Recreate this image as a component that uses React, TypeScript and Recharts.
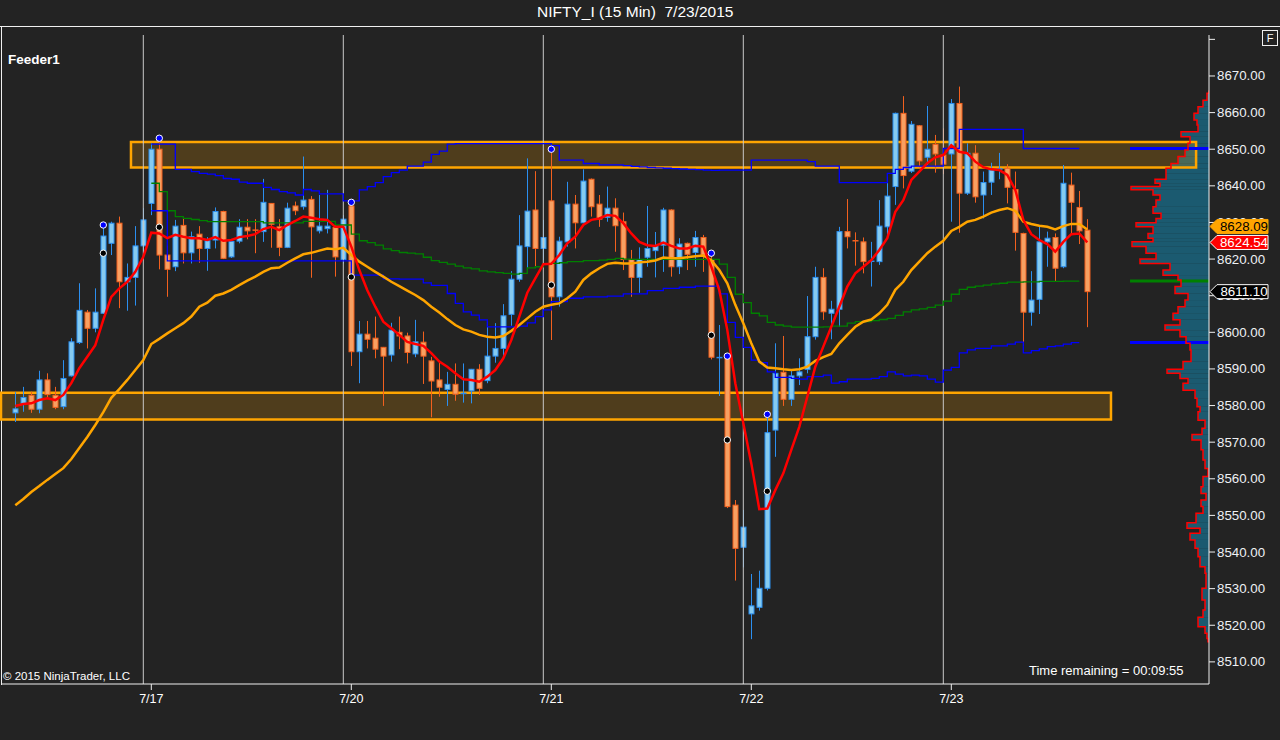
import React from "react";
import {
  ComposedChart,
  Bar,
  Line,
  Scatter,
  XAxis,
  YAxis,
  ReferenceLine,
  ReferenceArea,
} from "recharts";

// 15-min bars, index 0 = first visible bar of 7/16
const opens = [
  8578.0, 8580.6, 8582.8, 8579.0, 8587.0, 8582.8, 8579.7, 8588.1, 8597.2, 8605.5,
  8601.1, 8605.2, 8624.3, 8629.8, 8613.8, 8615.0, 8623.6, 8635.2, 8650.0, 8621.1,
  8617.9, 8629.2, 8621.7, 8626.8, 8622.9, 8625.2, 8633.0, 8620.6, 8624.9, 8628.7,
  8627.9, 8627.5, 8635.2, 8628.8, 8623.2, 8634.5, 8634.3, 8636.3, 8627.7, 8628.3,
  8628.6, 8619.9, 8634.5, 8594.7, 8599.5, 8598.4, 8595.9, 8593.8, 8600.0, 8599.0,
  8594.1, 8597.3, 8592.2, 8587.0, 8584.4, 8585.8, 8583.1, 8584.0, 8589.9, 8586.8,
  8593.5, 8595.6, 8604.9, 8614.5, 8623.4, 8633.4, 8622.9, 8635.9, 8609.7, 8624.7,
  8635.0, 8629.9, 8641.8, 8635.0, 8631.4, 8633.9, 8630.2, 8619.9, 8615.0, 8620.5,
  8622.3, 8623.8, 8633.4, 8617.9, 8624.3, 8621.8, 8625.9, 8619.9, 8592.9, 8592.9,
  8552.8, 8541.3, 8523.1, 8524.9, 8530.1, 8573.3, 8589.1, 8581.7, 8588.1, 8589.9,
  8598.8, 8615.0, 8605.2, 8606.3, 8627.5, 8625.0, 8624.7, 8619.2, 8619.3, 8628.8,
  8639.8, 8659.8, 8644.0, 8656.4, 8647.8, 8651.3, 8648.4, 8648.7, 8662.5, 8638.0,
  8648.9, 8637.5, 8641.0, 8644.4, 8644.8, 8639.0, 8627.0, 8605.5, 8609.0, 8624.7,
  8625.9, 8617.9, 8640.2, 8634.1, 8627.9,
];
const highs = [
  8583.7, 8585.1, 8583.8, 8589.5, 8588.8, 8585.1, 8592.4, 8598.4, 8613.4, 8606.1,
  8612.0, 8630.0, 8630.2, 8631.6, 8618.8, 8629.0, 8633.9, 8651.6, 8653.0, 8623.6,
  8630.7, 8631.4, 8627.5, 8629.0, 8626.0, 8634.1, 8633.2, 8625.0, 8630.9, 8630.9,
  8630.9, 8641.9, 8635.3, 8630.9, 8635.4, 8635.7, 8648.0, 8637.2, 8637.5, 8638.9,
  8629.3, 8632.0, 8635.7, 8603.1, 8603.1, 8604.3, 8596.0, 8602.6, 8604.3, 8599.9,
  8603.4, 8600.2, 8593.3, 8592.0, 8589.2, 8591.5, 8591.5, 8590.0, 8591.3, 8602.9,
  8602.5, 8607.7, 8616.7, 8632.0, 8647.5, 8644.0, 8630.7, 8650.0, 8626.1, 8641.1,
  8637.5, 8644.5, 8642.0, 8637.5, 8639.8, 8636.6, 8632.7, 8622.5, 8623.2, 8634.5,
  8627.4, 8634.0, 8633.6, 8625.7, 8624.5, 8627.7, 8626.6, 8621.6, 8602.0, 8594.0,
  8554.2, 8551.5, 8534.0, 8534.9, 8577.6, 8597.0, 8599.0, 8589.9, 8592.9, 8609.9,
  8617.9, 8617.5, 8608.6, 8628.8, 8636.4, 8627.3, 8625.9, 8624.7, 8636.1, 8642.5,
  8660.0, 8664.5, 8657.7, 8656.6, 8661.8, 8653.9, 8655.7, 8663.7, 8667.1, 8651.6,
  8651.1, 8643.9, 8646.3, 8649.0, 8645.9, 8643.9, 8627.2, 8616.7, 8628.8, 8627.5,
  8627.0, 8645.7, 8643.6, 8638.6, 8630.9,
];
const lows = [
  8575.5, 8578.3, 8578.0, 8577.9, 8582.0, 8579.0, 8579.0, 8587.9, 8596.8, 8595.6,
  8600.0, 8605.0, 8621.1, 8606.6, 8605.9, 8607.3, 8620.6, 8632.0, 8617.2, 8609.7,
  8616.7, 8618.8, 8618.8, 8619.0, 8616.8, 8622.9, 8620.0, 8620.3, 8624.3, 8625.4,
  8621.6, 8624.7, 8623.1, 8620.8, 8623.0, 8632.0, 8633.5, 8614.9, 8627.0, 8627.0,
  8615.2, 8618.8, 8590.8, 8586.1, 8595.6, 8592.9, 8579.9, 8592.0, 8595.4, 8591.5,
  8593.2, 8585.9, 8576.8, 8582.4, 8579.9, 8581.3, 8580.8, 8580.6, 8582.9, 8586.1,
  8591.7, 8593.3, 8601.8, 8613.8, 8617.0, 8617.9, 8619.7, 8597.9, 8607.0, 8623.4,
  8622.9, 8629.8, 8631.6, 8628.8, 8630.2, 8622.0, 8617.0, 8609.7, 8610.8, 8617.9,
  8615.0, 8616.5, 8615.2, 8615.9, 8617.0, 8617.9, 8616.5, 8592.6, 8582.6, 8552.0,
  8532.2, 8535.8, 8516.2, 8524.0, 8529.5, 8566.0, 8579.9, 8579.9, 8585.6, 8588.8,
  8598.0, 8603.4, 8598.1, 8601.5, 8622.9, 8618.2, 8616.1, 8612.5, 8618.4, 8626.1,
  8634.8, 8639.3, 8643.5, 8645.0, 8645.7, 8643.6, 8643.2, 8630.2, 8627.2, 8637.5,
  8635.4, 8631.1, 8637.5, 8641.8, 8635.2, 8622.3, 8596.3, 8601.8, 8605.0, 8617.9,
  8613.8, 8617.5, 8626.8, 8624.1, 8601.4,
];
const closes = [
  8579.1, 8582.2, 8579.0, 8587.0, 8583.0, 8579.5, 8587.4, 8597.4, 8606.0, 8601.1,
  8605.5, 8626.3, 8629.8, 8613.8, 8615.0, 8623.6, 8630.7, 8650.0, 8621.1, 8617.2,
  8629.0, 8621.7, 8626.1, 8622.9, 8625.0, 8633.0, 8620.2, 8624.8, 8628.7, 8627.7,
  8627.6, 8635.5, 8629.5, 8623.2, 8633.9, 8633.2, 8636.1, 8628.8, 8629.0, 8629.0,
  8620.6, 8630.9, 8594.7, 8599.5, 8598.1, 8595.4, 8593.5, 8600.6, 8599.0, 8594.5,
  8597.4, 8593.5, 8586.7, 8585.0, 8585.8, 8583.1, 8583.3, 8589.9, 8584.7, 8593.5,
  8595.6, 8604.5, 8614.5, 8623.6, 8633.1, 8622.9, 8625.9, 8609.7, 8624.9, 8635.0,
  8629.9, 8641.3, 8634.3, 8630.9, 8633.9, 8629.1, 8619.9, 8615.0, 8619.9, 8622.9,
  8623.6, 8633.4, 8617.9, 8624.1, 8621.3, 8625.9, 8621.1, 8593.2, 8593.1, 8552.4,
  8541.0, 8546.8, 8525.3, 8530.1, 8572.6, 8588.8, 8581.7, 8588.1, 8589.2, 8598.8,
  8615.0, 8605.6, 8606.3, 8627.5, 8626.1, 8624.8, 8619.3, 8619.4, 8629.0, 8637.2,
  8659.8, 8642.8, 8656.8, 8646.8, 8650.0, 8648.7, 8645.9, 8662.5, 8638.0, 8648.9,
  8637.0, 8640.9, 8644.3, 8644.6, 8639.6, 8627.3, 8605.5, 8608.8, 8624.7, 8625.7,
  8617.5, 8640.7, 8635.5, 8627.7, 8611.1,
];

// red fast average
const emaFast = [
  8579.9, 8580.4, 8580.6, 8581.5, 8582.0, 8581.5, 8582.9, 8586.1, 8590.2, 8593.3,
  8596.5, 8603.4, 8609.7, 8612.0, 8613.8, 8616.5, 8620.6, 8627.2, 8627.0, 8625.7,
  8626.6, 8626.1, 8625.7, 8625.7, 8625.2, 8626.0, 8625.0, 8625.2, 8626.0, 8626.3,
  8626.8, 8628.2, 8628.8, 8627.9, 8629.3, 8630.4, 8631.6, 8631.3, 8630.9, 8630.7,
  8628.8, 8628.8, 8623.4, 8617.0, 8611.5, 8607.0, 8602.9, 8601.1, 8599.3, 8597.4,
  8596.8, 8596.3, 8594.3, 8592.0, 8590.6, 8588.8, 8587.2, 8587.0, 8586.5, 8587.9,
  8589.7, 8592.9, 8597.9, 8604.3, 8610.8, 8614.7, 8618.6, 8618.7, 8621.1, 8624.3,
  8626.1, 8629.3, 8630.7, 8631.1, 8632.0, 8631.8, 8629.8, 8627.0, 8624.7, 8623.8,
  8623.6, 8624.5, 8623.6, 8622.9, 8622.9, 8623.6, 8623.4, 8617.9, 8611.5, 8600.6,
  8586.1, 8575.2, 8564.2, 8551.7, 8551.9, 8556.9, 8561.5, 8567.9, 8574.2, 8582.4,
  8590.6, 8596.1, 8601.5, 8607.0, 8612.5, 8616.1, 8617.9, 8619.7, 8622.5, 8625.7,
  8632.9, 8636.1, 8641.6, 8643.9, 8646.2, 8647.8, 8648.4, 8651.1, 8649.3, 8648.9,
  8646.6, 8645.1, 8644.5, 8644.3, 8643.0, 8638.9, 8630.7, 8626.8, 8625.2, 8624.1,
  8622.0, 8624.7, 8626.8, 8627.0, 8624.54,
];

// orange slow average
const smaSlow = [
  8552.8, 8554.5, 8556.4, 8558.0, 8559.7, 8561.3, 8562.9, 8565.4, 8568.4, 8571.4,
  8574.7, 8578.2, 8582.1, 8584.5, 8587.0, 8589.7, 8592.4, 8596.8, 8598.2, 8599.7,
  8601.1, 8602.5, 8604.3, 8607.0, 8608.1, 8610.0, 8610.6, 8611.6, 8612.9, 8614.1,
  8615.2, 8616.5, 8617.5, 8617.7, 8619.0, 8620.2, 8621.3, 8621.7, 8622.3, 8622.9,
  8622.7, 8623.1, 8621.1, 8619.3, 8617.9, 8616.5, 8615.2, 8613.8, 8612.6, 8611.4,
  8610.2, 8608.8, 8607.0, 8605.4, 8603.6, 8602.0, 8600.8, 8600.2, 8599.3, 8598.8,
  8598.6, 8599.0, 8600.4, 8602.0, 8603.8, 8605.6, 8607.0, 8607.5, 8607.9, 8609.3,
  8611.1, 8614.3, 8616.1, 8617.5, 8618.7, 8619.0, 8618.8, 8618.8, 8619.1, 8619.3,
  8619.6, 8620.4, 8620.2, 8620.2, 8620.5, 8620.8, 8621.0, 8619.7, 8617.0, 8613.4,
  8607.5, 8602.5, 8597.0, 8592.0, 8590.4, 8590.2, 8589.9, 8589.7, 8589.9, 8590.6,
  8592.2, 8593.2, 8594.1, 8597.0, 8599.3, 8601.5, 8602.9, 8603.5, 8605.2, 8607.5,
  8611.6, 8613.8, 8617.0, 8619.3, 8621.6, 8623.4, 8625.0, 8627.7, 8628.8, 8630.2,
  8630.7, 8631.6, 8632.7, 8633.4, 8633.9, 8633.2, 8630.2, 8629.6, 8629.1, 8628.8,
  8628.1, 8629.0, 8629.6, 8629.6, 8628.09,
];

// VWAP and its bands, bars 17..133
const bandStart = 17;
const vwap = [
  8640.7, 8638.4, 8633.2, 8631.6, 8631.1, 8630.8, 8630.5, 8630.2, 8630.2, 8630.2,
  8630.2, 8630.2, 8630.2, 8630.2, 8629.9, 8629.9, 8629.9, 8629.9, 8629.9, 8630.3,
  8630.3, 8630.3, 8630.3, 8629.3, 8629.3, 8626.8, 8625.0, 8624.5, 8623.8, 8622.8,
  8622.3, 8621.8, 8621.6, 8621.4, 8620.5, 8619.6, 8619.1, 8618.6, 8618.1, 8617.6,
  8617.3, 8616.8, 8616.5, 8616.3, 8616.1, 8615.9, 8616.1, 8617.6, 8617.9, 8618.7,
  8618.8, 8619.0, 8619.3, 8619.3, 8619.6, 8619.6, 8619.7, 8619.9, 8620.2, 8620.0,
  8619.9, 8619.9, 8619.9, 8619.9, 8619.9, 8619.9, 8619.9, 8619.9, 8619.9, 8619.9,
  8619.9, 8618.6, 8615.0, 8610.4, 8608.1, 8605.2, 8604.5, 8602.7, 8602.0, 8601.7,
  8601.4, 8601.4, 8601.4, 8601.4, 8601.5, 8601.7, 8601.7, 8602.5, 8602.9, 8602.9,
  8603.2, 8603.5, 8603.8, 8604.6, 8605.6, 8606.1, 8606.4, 8606.8, 8607.4, 8608.5,
  8610.4, 8611.7, 8612.3, 8612.6, 8612.9, 8613.2, 8613.4, 8613.7, 8613.7, 8613.8,
  8613.8, 8613.9, 8613.9, 8613.9, 8614.0, 8614.0, 8614.0,
];
const upperBand = [
  8651.4, 8651.4, 8651.4, 8644.5, 8644.5, 8643.9, 8643.4, 8643.2, 8642.8, 8642.0,
  8641.8, 8641.0, 8640.7, 8640.7, 8639.6, 8639.0, 8638.4, 8638.1, 8637.5, 8639.0,
  8638.6, 8637.8, 8637.8, 8637.8, 8635.9, 8635.9, 8638.9, 8639.8, 8640.9, 8642.5,
  8643.6, 8644.3, 8645.4, 8645.4, 8646.5, 8648.6, 8649.5, 8651.4, 8651.5, 8651.5,
  8651.5, 8651.5, 8651.5, 8651.5, 8651.5, 8651.5, 8651.5, 8651.5, 8651.5, 8651.5,
  8651.0, 8647.0, 8647.0, 8647.0, 8646.1, 8646.1, 8645.7, 8645.7, 8645.7, 8645.5,
  8645.3, 8645.2, 8645.0, 8644.9, 8644.8, 8644.7, 8644.6, 8644.5, 8644.4, 8644.3,
  8644.2, 8644.3, 8644.3, 8644.3, 8644.3, 8647.0, 8647.0, 8647.0, 8647.0, 8647.0,
  8647.0, 8647.0, 8646.6, 8645.4, 8645.4, 8645.4, 8640.9, 8640.9, 8640.9, 8640.9,
  8640.9, 8640.9, 8643.4, 8644.5, 8645.0, 8645.4, 8645.4, 8645.4, 8645.4, 8650.2,
  8650.2, 8655.4, 8655.4, 8655.4, 8655.4, 8655.4, 8655.4, 8655.4, 8655.4, 8650.2,
  8650.2, 8650.2, 8650.2, 8650.2, 8650.2, 8650.2, 8650.2,
];
const lowerBand = [
  8633.2, 8633.2, 8619.5, 8619.5, 8619.5, 8619.5, 8619.5, 8619.5, 8619.5, 8619.5,
  8619.5, 8619.5, 8619.5, 8619.5, 8619.5, 8619.5, 8619.5, 8619.5, 8619.5, 8619.5,
  8619.5, 8619.5, 8619.5, 8619.5, 8619.5, 8615.6, 8615.6, 8615.6, 8615.6, 8614.6,
  8614.6, 8614.5, 8614.5, 8614.5, 8613.5, 8612.8, 8612.8, 8610.6, 8607.9, 8605.6,
  8604.7, 8603.4, 8601.5, 8601.5, 8601.5, 8601.5, 8601.7, 8602.6, 8604.3, 8606.1,
  8608.4, 8608.4, 8609.3, 8609.3, 8609.7, 8609.7, 8609.7, 8609.9, 8609.9, 8610.5,
  8610.5, 8610.5, 8611.4, 8611.4, 8612.0, 8612.0, 8612.3, 8612.3, 8612.6, 8612.6,
  8612.6, 8610.5, 8602.7, 8598.6, 8595.9, 8592.4, 8591.7, 8589.2, 8587.7, 8587.7,
  8587.4, 8587.2, 8587.9, 8587.9, 8588.3, 8586.1, 8586.5, 8587.2, 8587.2, 8587.2,
  8587.4, 8587.9, 8589.2, 8588.6, 8588.1, 8588.3, 8588.1, 8587.2, 8586.4, 8589.7,
  8590.4, 8594.4, 8595.2, 8595.6, 8595.6, 8596.3, 8596.3, 8596.8, 8597.3, 8594.4,
  8595.0, 8595.5, 8596.1, 8596.3, 8596.8, 8597.2, 8597.2,
];

// swing markers
const dotBars = [11, 18, 42, 67, 87, 89, 94];
const blueDots = [8629.3, 8653.0, 8635.5, 8650.0, 8621.6, 8593.5, 8577.6];
const blackDots = [8621.6, 8628.7, 8615.1, 8612.9, 8599.2, 8570.6, 8556.6];

// volume profile: row top price and volume
const profilePrices = [
  8666.0, 8665.3, 8663.4, 8661.6, 8659.8, 8658.0, 8656.6, 8654.8, 8653.4, 8651.6,
  8649.8, 8648.0, 8646.1, 8644.8, 8643.4, 8641.8, 8640.7, 8639.8, 8638.9, 8637.5,
  8636.1, 8634.3, 8632.5, 8631.1, 8629.9, 8628.8, 8627.0, 8625.7, 8624.7, 8623.4,
  8621.6, 8620.0, 8618.8, 8617.0, 8615.6, 8614.3, 8612.5, 8610.6, 8608.8, 8607.0,
  8605.2, 8603.4, 8602.0, 8600.6, 8598.8, 8597.0, 8595.2, 8593.8, 8592.0, 8589.9,
  8588.8, 8587.4, 8586.1, 8584.2, 8582.0, 8579.7, 8578.3, 8576.0, 8573.8, 8572.1,
  8570.6, 8567.9, 8565.1, 8562.8, 8560.6, 8557.8, 8556.0, 8554.2, 8552.4, 8550.6,
  8548.0, 8546.5, 8545.1, 8543.3, 8541.0, 8538.7, 8536.0, 8534.2, 8530.1, 8526.9,
  8524.2, 8522.2, 8519.6, 8517.8, 8516.4, 8515.5,
];
const profileVolumes = [
  0, 2, 6, 11, 15, 12, 11, 28, 19, 21,
  24, 31, 38, 43, 43, 54, 49, 78, 56, 49,
  53, 56, 48, 53, 73, 56, 61, 56, 77, 63,
  53, 69, 39, 46, 31, 28, 34, 21, 24, 31,
  36, 29, 44, 29, 23, 19, 18, 18, 26, 42,
  29, 21, 26, 14, 12, 9, 11, 4, 7, 17,
  8, 6, 4, 1, 6, 8, 3, 8, 6, 13,
  22, 9, 19, 14, 11, 9, 4, 3, 7, 4,
  6, 11, 4, 2, 1, 0,
];

const sessionBreaks = [16, 41, 66, 91, 116];
const dayTicks = [17, 42, 67, 92, 117];
const dayLabels = ["7/17", "7/20", "7/21", "7/22", "7/23"];
const priceTicks = [
  8510, 8520, 8530, 8540, 8550, 8560, 8570, 8580, 8590, 8600, 8610, 8620, 8630,
  8640, 8650, 8660, 8670, 8680,
];

const zones = [
  { x1: 14.46, x2: 147.6, low: 8645.0, high: 8652.0 },
  { x1: -1.7875, x2: 136.96, low: 8576.2, high: 8583.5 },
];

const X_MIN = -1.7875;
const X_MAX = 149.2125;
const Y_MIN = 8503.96;
const Y_MAX = 8681.19;
const EXT_START = 139.34;
const TICK_SIZE = 6;
const TICK_GAP = 2;

const rows = opens.map((o, i) => {
  const inBand = i >= bandStart && i - bandStart < vwap.length;
  return {
    x: i,
    open: o,
    high: highs[i],
    low: lows[i],
    close: closes[i],
    ema: emaFast[i],
    sma: smaSlow[i],
    vwap: inBand ? vwap[i - bandStart] : null,
    upper: inBand ? upperBand[i - bandStart] : null,
    lower: inBand ? lowerBand[i - bandStart] : null,
  };
});

const profileRows = profilePrices.map((p, j) => ({ price: p, vol: profileVolumes[j] }));
const blueDotRows = dotBars.map((b, k) => ({ x: b, y: blueDots[k] }));
const blackDotRows = dotBars.map((b, k) => ({ x: b, y: blackDots[k] }));

const lastUpper = upperBand[upperBand.length - 1];
const lastVwap = vwap[vwap.length - 1];
const lastLower = lowerBand[lowerBand.length - 1];
const lastSma = smaSlow[smaSlow.length - 1];
const lastEma = emaFast[emaFast.length - 1];
const lastClose = closes[closes.length - 1];

// last-value tags ride on the price axis as extra ticks, after the regular ones
const tagStyles = [
  { value: lastSma, fill: "#ffa500", color: "#000000", border: "#ffa500", dy: -3 },
  { value: lastEma, fill: "#ff0000", color: "#ffffff", border: "#ffffff", dy: 0 },
  { value: lastClose, fill: "#000000", color: "#ffffff", border: "#ffffff", dy: 0 },
];
const axisTicks = [...priceTicks, ...tagStyles.map((t) => t.value)];

const FONT = '"Liberation Sans", Arial, sans-serif';

function Candle(props: any) {
  const { x, y, width, height, payload } = props;
  if (payload == null || x == null) return null;
  const { open, close, high, low } = payload;
  const up = close >= open;
  const span = high - low;
  const ratio = span > 0 ? height / span : 0;
  const py = (v: number) => y + (high - v) * ratio;
  const cx = Math.round(x + width / 2) + 0.5;
  const top = py(Math.max(open, close));
  const bottom = py(Math.min(open, close));
  const stroke = up ? "#2b8ff0" : "#f2601e";
  const fill = up ? "#86cbf0" : "#f7a062";
  return (
    <g>
      <line x1={cx} x2={cx} y1={y} y2={y + height} stroke={stroke} strokeWidth={1} />
      {bottom - top < 1.5 ? (
        <line x1={cx - 3} x2={cx + 3} y1={top} y2={top} stroke={stroke} strokeWidth={1.5} />
      ) : (
        <rect
          x={cx - 2.5}
          y={top}
          width={5}
          height={bottom - top}
          fill={fill}
          stroke={stroke}
          strokeWidth={1}
        />
      )}
    </g>
  );
}

function PriceTick(props: any) {
  const { x, y, payload } = props;
  if (payload == null) return null;
  const v = Number(payload.value);
  const ax = x - TICK_SIZE - TICK_GAP; // axis line position
  const tag = tagStyles.find((t) => Math.abs(t.value - v) < 1e-6);
  if (tag) {
    const c = y + tag.dy;
    return (
      <g>
        <polygon
          points={`${ax + 1},${c} ${ax + 8},${c - 7} ${ax + 59},${c - 7} ${ax + 59},${c + 7} ${ax + 8},${c + 7}`}
          fill={tag.fill}
          stroke={tag.border}
          strokeWidth={1}
        />
        <text
          x={ax + 35}
          y={c + 4.5}
          textAnchor="middle"
          fontSize={13.3}
          fontFamily={FONT}
          fill={tag.color}
        >
          {v.toFixed(2)}
        </text>
      </g>
    );
  }
  return (
    <g>
      <line x1={ax} x2={ax + TICK_SIZE} y1={y} y2={y} stroke="#f0f0f0" strokeWidth={1} />
      {v !== 8680 && (
        <text x={x} y={y + 4.5} textAnchor="start" fontSize={13.3} fontFamily={FONT} fill="#eef0f4">
          {v.toFixed(2)}
        </text>
      )}
    </g>
  );
}

export default function App() {
  return (
    <div
      style={{
        position: "absolute",
        left: 0,
        top: 0,
        width: 1280,
        height: 740,
        background: "#232323",
        fontFamily: FONT,
        overflow: "hidden",
      }}
    >
      <style>{"body{margin:0;background:#232323}"}</style>
      <div
        style={{
          position: "absolute",
          left: 537,
          top: 3,
          color: "#ffffff",
          fontSize: 15.5,
          whiteSpace: "pre",
        }}
      >
        {"NIFTY_I (15 Min)  7/23/2015"}
      </div>
      <div style={{ position: "absolute", left: 0, top: 26, width: 1280, height: 1, background: "#f0f0f0" }} />
      <div style={{ position: "absolute", left: 1, top: 27, width: 1, height: 658, background: "#f0f0f0" }} />
      <div
        style={{
          position: "absolute",
          left: 1262,
          top: 30,
          width: 14,
          height: 14,
          border: "1px solid #f0f0f0",
          color: "#ffffff",
          fontSize: 11,
          lineHeight: "14px",
          textAlign: "center",
        }}
      >
        F
      </div>
      <div style={{ position: "absolute", left: 0, top: 0 }}>
        <ComposedChart
          width={1280}
          height={740}
          data={rows}
          margin={{ top: 35, right: 0, bottom: 0, left: 1 }}
        >
          <XAxis
            dataKey="x"
            type="number"
            domain={[X_MIN, X_MAX]}
            allowDataOverflow
            ticks={dayTicks}
            interval={0}
            tickFormatter={(v: number) => dayLabels[dayTicks.indexOf(v)] ?? ""}
            stroke="#f0f0f0"
            tickLine={{ stroke: "#f0f0f0" }}
            tick={{ fill: "#ffffff", fontSize: 12.5, fontFamily: FONT }}
            tickSize={6}
            tickMargin={4}
            height={56}
          />
          <XAxis
            xAxisId="vp"
            dataKey="vol"
            type="number"
            domain={[0, 1208]}
            allowDataOverflow
            reversed
            hide
          />
          <YAxis
            orientation="right"
            type="number"
            domain={[Y_MIN, Y_MAX]}
            allowDataOverflow
            ticks={axisTicks}
            interval={0}
            stroke="#f0f0f0"
            tickLine={false}
            tick={(p: any) => <PriceTick {...p} />}
            tickSize={TICK_SIZE}
            tickMargin={TICK_GAP}
            width={71}
          />

          {sessionBreaks.map((b) => (
            <ReferenceLine key={`s${b}`} x={b} stroke="#c8c8c8" strokeWidth={1} />
          ))}

          <ReferenceLine
            segment={[{ x: EXT_START, y: lastUpper }, { x: X_MAX, y: lastUpper }]}
            stroke="#0000ff"
            strokeWidth={3}
          />
          <ReferenceLine
            segment={[{ x: EXT_START, y: lastVwap }, { x: X_MAX, y: lastVwap }]}
            stroke="#008000"
            strokeWidth={3}
          />
          <ReferenceLine
            segment={[{ x: EXT_START, y: lastLower }, { x: X_MAX, y: lastLower }]}
            stroke="#0000ff"
            strokeWidth={3}
          />

          {profileRows.slice(0, -1).map((r, j) => (
            <ReferenceArea
              key={`vp${j}`}
              xAxisId="vp"
              x1={0}
              x2={r.vol}
              y1={profileRows[j + 1].price}
              y2={r.price}
              fill="#167fa3"
              fillOpacity={0.6}
              stroke="none"
            />
          ))}
          <Line
            xAxisId="vp"
            data={profileRows}
            dataKey="price"
            type="stepBefore"
            stroke="#ff0000"
            strokeWidth={1.5}
            dot={false}
            isAnimationActive={false}
          />

          <Line dataKey="vwap" type="stepAfter" stroke="#008000" strokeWidth={1.3} dot={false} isAnimationActive={false} />
          <Line dataKey="upper" type="stepAfter" stroke="#0000ff" strokeWidth={1.3} dot={false} isAnimationActive={false} />
          <Line dataKey="lower" type="stepAfter" stroke="#0000ff" strokeWidth={1.3} dot={false} isAnimationActive={false} />

          <Bar
            dataKey={(d: any) => [d.low, d.high]}
            barSize={6}
            shape={(p: any) => <Candle {...p} />}
            isAnimationActive={false}
          />

          <Scatter
            data={blueDotRows}
            dataKey="y"
            isAnimationActive={false}
            shape={(p: any) => (
              <circle cx={p.cx} cy={p.cy} r={3.2} fill="#0000ff" stroke="#ffffff" strokeWidth={1} />
            )}
          />
          <Scatter
            data={blackDotRows}
            dataKey="y"
            isAnimationActive={false}
            shape={(p: any) => (
              <circle cx={p.cx} cy={p.cy} r={3.2} fill="#000000" stroke="#ffffff" strokeWidth={1} />
            )}
          />

          {zones.map((z, k) => (
            <ReferenceArea
              key={`z${k}`}
              x1={z.x1}
              x2={z.x2}
              y1={z.low}
              y2={z.high}
              fill="#ffa500"
              fillOpacity={0.2}
              stroke="#ffa500"
              strokeWidth={2.5}
            />
          ))}

          <Line dataKey="sma" type="linear" stroke="#ffa500" strokeWidth={2.5} dot={false} isAnimationActive={false} />
          <Line dataKey="ema" type="linear" stroke="#ff0000" strokeWidth={2.5} dot={false} isAnimationActive={false} />
        </ComposedChart>
      </div>
      <div style={{ position: "absolute", left: 8, top: 52, color: "#ffffff", fontSize: 13.5, fontWeight: "bold" }}>
        Feeder1
      </div>
      <div style={{ position: "absolute", left: 3, top: 670, color: "#ffffff", fontSize: 11.5 }}>
        © 2015 NinjaTrader, LLC
      </div>
      <div style={{ position: "absolute", left: 1029, top: 663, color: "#ffffff", fontSize: 13 }}>
        Time remaining = 00:09:55
      </div>
    </div>
  );
}
